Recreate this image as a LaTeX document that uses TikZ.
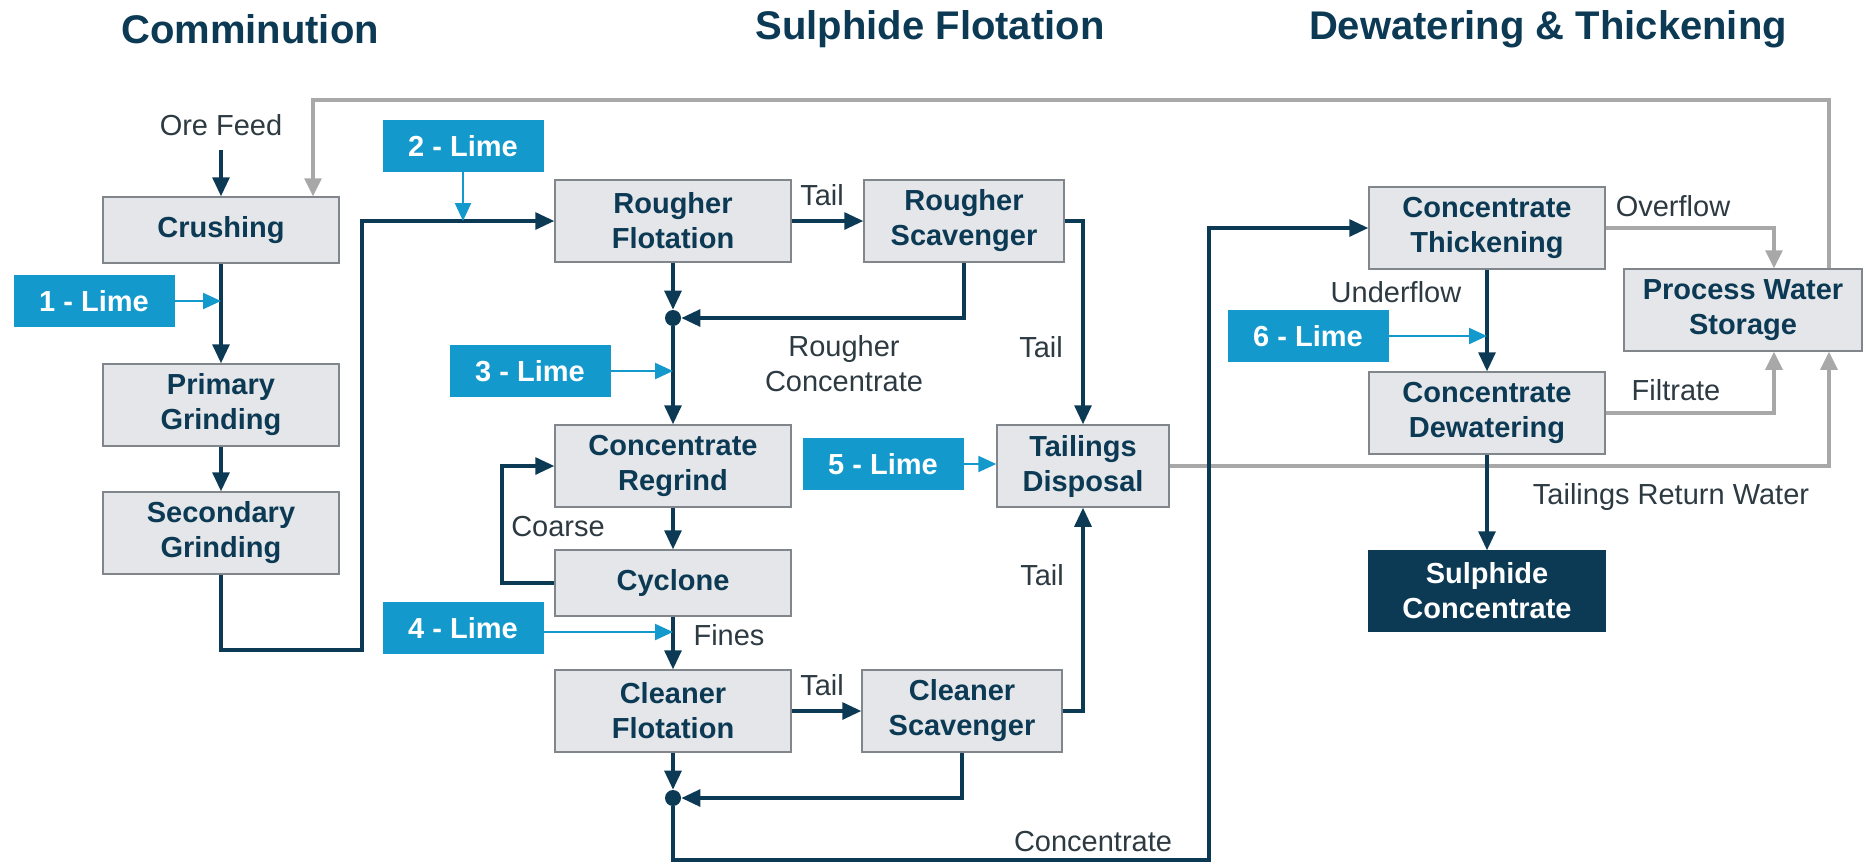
\documentclass[tikz,border=0pt]{standalone}
\usepackage{fontspec}
\setmainfont{Liberation Sans}
\usetikzlibrary{arrows.meta}

\definecolor{navy}{RGB}{12,58,84}
\definecolor{limeblue}{RGB}{20,153,204}
\definecolor{boxgray}{RGB}{228,230,233}
\definecolor{edgegray}{RGB}{128,134,140}
\definecolor{watergray}{RGB}{168,168,168}
\definecolor{labelgray}{RGB}{45,58,66}

\tikzset{
    stagebox/.style={draw=edgegray, line width=0.75pt, fill=boxgray, text=navy,
        font=\fontsize{14.5}{17.5}\selectfont\bfseries, align=center,
        minimum width=118pt, minimum height=41pt, inner sep=0pt},
    limebox/.style={fill=limeblue, text=white, font=\fontsize{14.5}{17.5}\selectfont\bfseries,
        minimum width=80.5pt, minimum height=26pt, inner sep=0pt},
    product/.style={stagebox, fill=navy, draw=navy, text=white},
    lbl/.style={text=labelgray, font=\fontsize{14.5}{17.5}\selectfont, align=center, inner sep=0pt},
    heading/.style={text=navy, font=\fontsize{20}{24}\selectfont\bfseries},
    flow/.style={draw=navy, line width=1.6pt, -{Triangle[length=9.5pt,width=8.5pt]}},
    dose/.style={draw=limeblue, line width=1.1pt, -{Triangle[length=9pt,width=8pt]}},
    water/.style={draw=watergray, line width=1.6pt, -{Triangle[length=9pt,width=8.5pt]}},
    junction/.style={circle, fill=navy, minimum size=8pt, inner sep=0pt}
}

\begin{document}
\begin{tikzpicture}[x=0.5pt, y=-0.5pt]
    \useasboundingbox (0,0) rectangle (1870,864);

    % headings
    \node[heading] (hcomm) at (250,29) {Comminution};
    \node[heading] (hflot) at (930,29) {Sulphide Flotation};
    \node[heading] (hdew) at (1548,29) {Dewatering \& Thickening};

    % comminution
    \node[lbl] (orefeed) at (221,125) {Ore Feed};
    \node[stagebox, minimum height=33pt] (crush) at (221,230) {Crushing};
    \node[stagebox] (prim) at (221,405) {Primary\\Grinding};
    \node[stagebox] (sec) at (221,533) {Secondary\\Grinding};

    % flotation
    \node[stagebox] (rflot) at (673,221) {Rougher\\Flotation};
    \node[stagebox, minimum width=100pt] (rscav) at (964,221) {Rougher\\Scavenger};
    \node[junction] (dot1) at (673,318) {};
    \node[stagebox] (regrind) at (673,466) {Concentrate\\Regrind};
    \node[stagebox, minimum height=33pt] (cyclone) at (673,583) {Cyclone};
    \node[stagebox] (cflot) at (673,711) {Cleaner\\Flotation};
    \node[stagebox, minimum width=100pt] (cscav) at (962,711) {Cleaner\\Scavenger};
    \node[junction] (dot2) at (673,798) {};
    \node[stagebox, minimum width=86pt] (tail) at (1083,466) {Tailings\\Disposal};

    % dewatering
    \node[stagebox] (thick) at (1487,228) {Concentrate\\Thickening};
    \node[stagebox] (dewat) at (1487,413) {Concentrate\\Dewatering};
    \node[stagebox, minimum width=119pt] (pws) at (1743,310) {Process Water\\Storage};
    \node[product, minimum height=40pt] (sconc) at (1487,591) {Sulphide\\Concentrate};

    % lime additions
    \foreach \n/\x/\y in {1/94/301, 2/463/146, 3/530/371, 4/463/628, 5/883/464, 6/1308/336}
        \node[limebox] (lime\n) at (\x,\y) {\n{} - Lime};

    % stream labels
    \node[lbl] (ltail1) at (822,195) {Tail};
    \node[lbl] (lrconc) at (844,364) {Rougher\\Concentrate};
    \node[lbl] (ltail2) at (1041,347) {Tail};
    \node[lbl] (lcoarse) at (558,527) {Coarse};
    \node[lbl] (lfines) at (729,635) {Fines};
    \node[lbl] (ltail3) at (822,685) {Tail};
    \node[lbl] (ltail4) at (1042,575) {Tail};
    \node[lbl] (lconc) at (1093,842) {Concentrate};
    \node[lbl] (lover) at (1673,206) {Overflow};
    \node[lbl] (lunder) at (1396,292) {Underflow};
    \node[lbl] (lfilt) at (1676,390) {Filtrate};
    \node[lbl] (lret) at (1671,497) {Tailings Return Water};

    % bends and risers
    \coordinate (bend1) at (362,650);
    \coordinate (coarse) at (502,583);
    \coordinate (bend2) at (1209,860);
    \coordinate (wl) at (1774,0);
    \coordinate (wr) at (1829,0);
    \coordinate (wc) at (313,100);

    % water returns
    \draw[water] (thick.east) -| (pws.north -| wl);
    \draw[water] (dewat.east) -| (pws.south -| wl);
    \draw[water] (tail.east) -| (pws.south -| wr);
    \draw[water] (pws.north -| wr) |- (wc) -- (crush.north -| wc);

    % comminution circuit
    \draw[flow, shorten <=7pt] (orefeed) -- (crush);
    \draw[flow] (crush) -- (prim);
    \draw[flow] (prim) -- (sec);
    \draw[flow] (sec.south) |- (bend1) |- (rflot.west);

    % flotation circuit
    \draw[flow] (rflot) -- (rscav);
    \draw[flow] (rflot) -- (dot1);
    \draw[flow] (rscav.south) |- (dot1);
    \draw[flow] (dot1) -- (regrind);
    \draw[flow] (rscav.east) -| (tail.north);
    \draw[flow] (regrind) -- (cyclone);
    \draw[flow] (cyclone.west) -- (coarse) |- (regrind.west);
    \draw[flow] (cyclone) -- (cflot);
    \draw[flow] (cflot) -- (cscav);
    \draw[flow] (cscav.east) -| (tail.south);
    \draw[flow] (cflot) -- (dot2);
    \draw[flow] (cscav.south) |- (dot2);
    \draw[flow] (dot2) |- (bend2) |- (thick.west);

    % dewatering circuit
    \draw[flow] (thick) -- (dewat);
    \draw[flow] (dewat) -- (sconc);

    % lime dosing
    \draw[dose] (lime1.east) -- (lime1.east -| crush.south);
    \draw[dose] (lime2.south) -- (lime2.south |- rflot.west);
    \draw[dose] (lime3.east) -- (lime3.east -| dot1);
    \draw[dose] ([yshift=-2pt]lime4.east) -- ([yshift=-2pt]lime4.east -| cyclone.south);
    \draw[dose] (lime5.east) -- (lime5.east -| tail.west);
    \draw[dose] (lime6.east) -- (lime6.east -| thick.south);

\end{tikzpicture}
\end{document}
